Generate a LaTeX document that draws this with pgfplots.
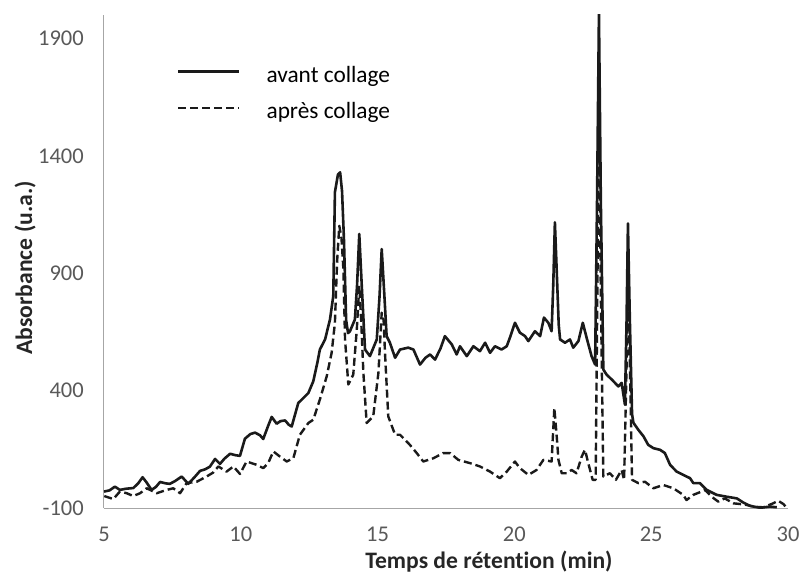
\documentclass[border=0pt]{standalone}
\usepackage{fontspec}
\setmainfont{Carlito}[Ligatures=NoCommon]
\usepackage{pgfplots}
\pgfplotsset{compat=1.18}
\definecolor{tickgray}{HTML}{595959}
\definecolor{axgray}{HTML}{A6A6A6}
\definecolor{labdark}{HTML}{262626}
\definecolor{linec}{HTML}{1A1A1A}
\begin{document}
\begin{tikzpicture}
\begin{axis}[
  name=ax,
  scale only axis,
  width=684bp, height=493bp,
  xmin=5, xmax=30, ymin=-100, ymax=2000,
  axis x line*=bottom, axis y line*=left,
  axis line style={axgray, line width=1bp, -},
  xtick={5,10,15,20,25,30},
  ytick={-100,400,900,1400,1900},
  major tick length=0pt,
  /pgf/number format/assume math mode=true,
  /pgf/number format/1000 sep={},
  tick label style={font=\fontsize{22.6}{27}\selectfont, text=tickgray, inner sep=0pt},
  yticklabel style={xshift=-20bp},
  xticklabel style={yshift=-19bp},
  xlabel={Temps de rétention (min)},
  ylabel={Absorbance (u.a.)},
  label style={font=\fontsize{23.7}{28}\bfseries, text=labdark, inner sep=0pt},
  xlabel style={at={(rel axis cs:0.5629,-0.1237)}, anchor=base},
  ylabel style={at={(rel axis cs:-0.10526,0.487)}, anchor=base},
  clip=true,
  legend style={draw=none, fill=none, inner sep=0pt, outer sep=0pt,
    at={(rel axis cs:0.1067,0.8966)}, anchor=north west,
    font=\fontsize{23.4}{28}\selectfont, text=black,
    nodes={inner sep=0pt}, row sep=19bp,
    /tikz/every odd column/.style={column sep=26bp}},
  legend cell align=left,
  legend image code/.code={\draw[#1] (0bp,0.35em) -- (61bp,0.35em);},
]
\addplot[linec, line width=2.6bp, line join=round] coordinates {
(5.0,-30) (5.2,-25) (5.4,-9) (5.58,-23) (5.8,-18) (6.07,-15) (6.25,5) (6.41,31) (6.55,10) (6.74,-23)
(6.9,-10) (7.05,11) (7.25,5) (7.41,3) (7.6,15) (7.84,34) (8.08,3) (8.3,30) (8.51,58) (8.7,65)
(8.87,76) (9.06,109) (9.24,88) (9.4,110) (9.61,131) (9.8,125) (9.97,122) (10.15,195) (10.35,215) (10.52,221)
(10.7,210) (10.82,194) (11.0,250) (11.13,288) (11.31,259) (11.45,270) (11.62,273) (11.75,255) (11.86,247) (12.1,347)
(12.3,370) (12.47,390) (12.65,440) (12.8,520) (12.89,575) (13.08,618) (13.26,703) (13.38,803) (13.44,1245) (13.55,1320)
(13.63,1330) (13.7,1250) (13.77,1045) (13.85,700) (13.92,645) (13.99,653) (14.17,703) (14.25,850) (14.33,1067) (14.42,850)
(14.54,575) (14.72,547) (14.97,618) (15.07,800) (15.15,1003) (15.25,800) (15.33,632) (15.45,604) (15.64,540) (15.82,575)
(16.12,583) (16.31,575) (16.55,511) (16.75,540) (16.92,554) (17.1,532) (17.3,580) (17.46,632) (17.71,597) (17.89,554)
(18.01,589) (18.26,547) (18.5,589) (18.74,568) (18.93,604) (19.11,561) (19.29,589) (19.53,575) (19.72,589) (19.85,630)
(20.02,689) (20.2,647) (20.39,632) (20.51,611) (20.75,653) (20.94,632) (21.08,711) (21.24,689) (21.36,653) (21.42,850)
(21.48,1117) (21.55,900) (21.62,680) (21.67,618) (21.85,604) (22.03,618) (22.15,583) (22.34,611) (22.5,689) (22.64,625)
(22.82,547) (22.95,511) (23.02,1200) (23.09,2010) (23.16,1200) (23.25,490) (23.37,468) (23.56,447) (23.8,418) (23.92,433)
(24.04,340) (24.1,700) (24.15,1112) (24.22,700) (24.3,300) (24.35,263) (24.53,233) (24.72,205) (24.89,169) (25.08,155)
(25.32,148) (25.5,134) (25.69,84) (25.93,55) (26.17,41) (26.42,27) (26.54,6) (26.78,6) (27.03,-23) (27.39,-44)
(27.76,-52) (28.13,-59) (28.37,-77) (28.61,-91) (28.98,-99) (29.34,-94) (29.59,-97)
};
\addlegendentry{avant collage}
\addplot[linec, line width=2.4bp, dash pattern=on 8bp off 4bp, line join=round] coordinates {
(5.01,-49) (5.34,-62) (5.58,-30) (5.83,-37) (6.07,-49) (6.32,-37) (6.56,-16) (6.93,-37) (7.29,-23) (7.53,-16)
(7.78,-37) (8.02,6) (8.39,12) (8.75,34) (8.99,51) (9.18,77) (9.48,55) (9.73,77) (9.97,45) (10.21,98)
(10.58,84) (10.82,70) (11.0,91) (11.19,141) (11.43,119) (11.68,98) (11.92,112) (12.16,212) (12.47,262) (12.65,276)
(12.89,362) (13.14,461) (13.32,561) (13.44,689) (13.52,950) (13.6,1102) (13.68,1050) (13.75,917) (13.81,618) (13.93,426)
(14.11,468) (14.24,661) (14.33,846) (14.4,700) (14.48,476) (14.6,262) (14.84,290) (15.03,476) (15.15,732) (15.22,700)
(15.27,561) (15.39,290) (15.64,212) (15.82,212) (16.18,169) (16.43,134) (16.67,98) (17.04,112) (17.4,134) (17.65,134)
(17.95,105) (18.38,91) (18.74,77) (19.11,55) (19.47,27) (19.72,55) (20.02,98) (20.2,70) (20.51,41) (20.81,62)
(21.06,105) (21.36,98) (21.46,326) (21.55,200) (21.61,105) (21.73,48) (21.91,48) (22.09,62) (22.27,48) (22.46,119)
(22.58,148) (22.7,91) (22.86,20) (22.97,20) (23.03,800) (23.09,1588) (23.16,800) (23.25,34) (23.49,48) (23.71,20)
(23.92,62) (24.01,20) (24.08,400) (24.16,818) (24.24,400) (24.3,20) (24.53,6) (24.77,12) (25.08,-16) (25.44,-2)
(25.81,-16) (26.17,-44) (26.29,-66) (26.54,-44) (26.84,-30) (26.97,-23) (27.21,-52) (27.45,-73) (27.69,-59) (28.0,-80)
(28.4,-85) (28.8,-95) (29.1,-97) (29.46,-80) (29.64,-69) (29.83,-83) (29.95,-99)
};
\addlegendentry{après collage}
\end{axis}
\pgfresetboundingbox
\path[use as bounding box] ([xshift=-104bp,yshift=-71bp]ax.south west) rectangle ([xshift=13bp,yshift=15bp]ax.north east);
\end{tikzpicture}
\end{document}
